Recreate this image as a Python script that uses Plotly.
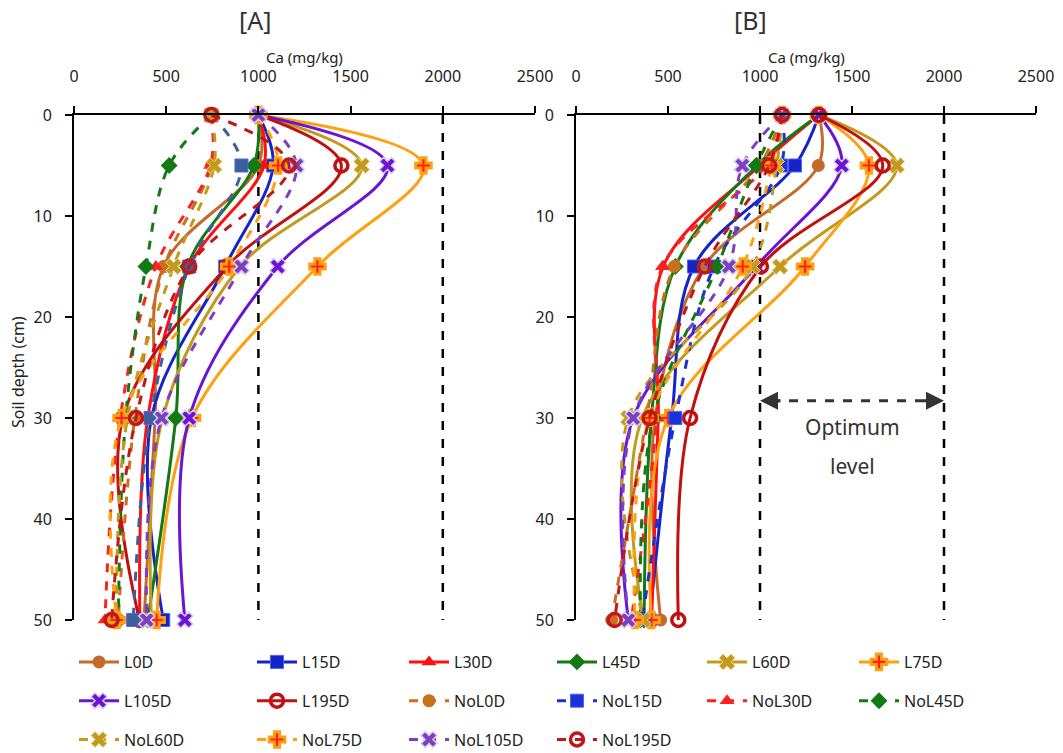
import plotly.graph_objects as go

depth = [0, 5, 15, 30, 50]
x_ticks = [0, 500, 1000, 1500, 2000, 2500]
y_ticks = [0, 10, 20, 30, 40, 50]
optimum = [1000, 2000]

names = ["L0D", "L15D", "L30D", "L45D", "L60D", "L75D", "L105D", "L195D",
         "NoL0D", "NoL15D", "NoL30D", "NoL45D", "NoL60D", "NoL75D", "NoL105D", "NoL195D"]

# Panel A values (Ca mg/kg at depths 0,5,15,30,50)
A_L0D = [1000, 1000, 485, 440, 380]
A_L15D = [1000, 1080, 820, 420, 484]
A_L30D = [1000, 1030, 625, 400, 357]
A_L45D = [1000, 975, 615, 552, 400]
A_L60D = [1000, 1560, 900, 480, 420]
A_L75D = [1000, 1895, 1320, 640, 448]
A_L105D = [1000, 1700, 1105, 625, 601]
A_L195D = [1000, 1450, 830, 265, 355]
A_NoL0D = [745, 745, 490, 330, 240]
A_NoL15D = [745, 908, 625, 415, 321]
A_NoL30D = [745, 740, 444, 250, 168]
A_NoL45D = [745, 516, 390, 280, 240]
A_NoL60D = [745, 760, 540, 290, 230]
A_NoL75D = [1000, 1107, 842, 258, 231]
A_NoL105D = [1000, 1206, 908, 475, 394]
A_NoL195D = [745, 1166, 625, 336, 204]

# Panel B values
B_L0D = [1320, 1317, 696, 430, 460]
B_L15D = [1320, 1190, 641, 520, 400]
B_L30D = [1320, 1000, 474, 447, 411]
B_L45D = [1320, 982, 540, 410, 370]
B_L60D = [1320, 1743, 1109, 360, 366]
B_L75D = [1320, 1592, 1245, 500, 410]
B_L105D = [1320, 1444, 980, 311, 284]
B_L195D = [1320, 1667, 1005, 620, 556]
B_NoL0D = [1120, 1000, 534, 384, 194]
B_NoL15D = [1120, 1114, 750, 540, 360]
B_NoL30D = [1120, 1030, 470, 440, 300]
B_NoL45D = [1120, 980, 768, 420, 350]
B_NoL60D = [1120, 1090, 960, 284, 366]
B_NoL75D = [1120, 1063, 906, 400, 320]
B_NoL105D = [1120, 904, 831, 311, 284]
B_NoL195D = [1120, 1050, 700, 400, 210]

panelA = [A_L0D, A_L15D, A_L30D, A_L45D, A_L60D, A_L75D, A_L105D, A_L195D,
          A_NoL0D, A_NoL15D, A_NoL30D, A_NoL45D, A_NoL60D, A_NoL75D, A_NoL105D, A_NoL195D]
panelB = [B_L0D, B_L15D, B_L30D, B_L45D, B_L60D, B_L75D, B_L105D, B_L195D,
          B_NoL0D, B_NoL15D, B_NoL30D, B_NoL45D, B_NoL60D, B_NoL75D, B_NoL105D, B_NoL195D]

style = {
    "L0D": dict(color="#C46A2B", symbol="circle", mline="#C46A2B", mlw=0),
    "L15D": dict(color="#1424C8", symbol="square", mline="#5060F0", mlw=1),
    "L30D": dict(color="#FF1010", symbol="triangle-up", mline="#FF1010", mlw=0),
    "L45D": dict(color="#137A13", symbol="diamond", mline="#137A13", mlw=0),
    "L60D": dict(color="#C49A1C", symbol="x", mline="#E8D89A", mlw=1),
    "L75D": dict(color="#FFA010", symbol="cross", mline="#FFA010", mlw=3),
    "L105D": dict(color="#6A14D4", symbol="x", mline="#D8CCF2", mlw=1.5),
    "L195D": dict(color="#C01010", symbol="circle-open", mline="#C01010", mlw=3.5),
}
dash_colors = {
    "NoL0D": "#C8701E", "NoL15D": "#1A33D6", "NoL30D": "#FF2020", "NoL45D": "#137A13",
    "NoL60D": "#C49A1C", "NoL75D": "#FFA010", "NoL105D": "#7B3FC0", "NoL195D": "#C01818",
}

legend_cols = {}
order_rows = [names[0:6], names[6:12], names[12:16]]
for r, row in enumerate(order_rows):
    for c, n in enumerate(row):
        legend_cols[n] = c

fig = go.Figure()


def add_series(vals, name, xaxis, yaxis, showlegend, override_color=None):
    base = name.replace("NoL", "L")
    st = style[base]
    dashed = name.startswith("NoL")
    lc = dash_colors[name] if dashed else st["color"]
    if override_color:
        lc = override_color
    if base == "L75D":
        mcol, mline = "#FF2020", lc
    elif base in ("L105D", "L15D", "L60D"):
        mcol, mline = lc, st["mline"]
    else:
        mcol, mline = lc, lc
    leg = "legend" if legend_cols[name] == 0 else "legend%d" % (legend_cols[name] + 1)
    fig.add_trace(go.Scatter(
        x=vals, y=depth, name=name, mode="lines+markers",
        line=dict(color=lc, width=3, shape="spline", dash="dash" if dashed else "solid"),
        marker=dict(symbol=st["symbol"], size=13 if st["symbol"] != "x" else 14,
                    color=mcol, line=dict(color=mline, width=st["mlw"])),
        xaxis=xaxis, yaxis=yaxis, showlegend=showlegend, legend=leg,
        legendgroup=name, cliponaxis=False,
    ))


for n, v in zip(names, panelA):
    add_series(v, n, "x", "y", False, override_color="#3D5E9A" if n == "NoL15D" else None)
for n, v in zip(names, panelB):
    add_series(v, n, "x2", "y2", True)

W, H = 1063, 753
axA = [74 / W, 535 / W]
axB = [576 / W, 1036 / W]
ydom = [(H - 620) / H, (H - 115) / H]

axis_font = dict(family="Noto Sans", size=16, color="#222")
xcommon = dict(range=[0, 2500], tickvals=x_ticks, side="top", showline=True, linecolor="black",
               linewidth=2, ticks="outside", ticklen=7, tickwidth=2, tickcolor="black",
               showgrid=False, zeroline=False, tickfont=axis_font, ticklabelstandoff=18,
               automargin=False)
ycommon = dict(range=[50, 0], tickvals=y_ticks, showline=True, linecolor="black", linewidth=2,
               ticks="outside", ticklen=7, tickwidth=2, tickcolor="black", showgrid=False,
               zeroline=False, tickfont=axis_font, ticklabelstandoff=10, automargin=False)

fig.update_layout(
    width=W, height=H, plot_bgcolor="white", paper_bgcolor="white",
    margin=dict(l=0, r=0, t=0, b=0, autoexpand=False),
    xaxis=dict(domain=axA, anchor="y", **xcommon),
    yaxis=dict(domain=ydom, anchor="x", **ycommon),
    xaxis2=dict(domain=axB, anchor="y2", **xcommon),
    yaxis2=dict(domain=ydom, anchor="x2", **ycommon),
    font=dict(family="Noto Sans", color="#222"),
)

# legends: one per column
col_text_x = [122, 300, 452, 600, 750, 902]
for c, tx in enumerate(col_text_x):
    key = "legend" if c == 0 else "legend%d" % (c + 1)
    fig.update_layout({key: dict(x=(tx - 48) / W, y=(H - 645) / H, xanchor="left", yanchor="top",
                                 orientation="v", bgcolor="rgba(0,0,0,0)",
                                 font=dict(family="Noto Sans", size=16, color="#222"),
                                 tracegroupgap=15, itemwidth=40)})

# optimum reference lines
for xr, yr in (("x", "y"), ("x2", "y2")):
    for xv in optimum:
        fig.add_shape(type="line", x0=xv, x1=xv, y0=0, y1=50, xref=xr, yref=yr,
                      line=dict(color="black", width=2.5, dash="dash"), layer="below")

# optimum arrow in panel B
fig.add_shape(type="line", x0=optimum[0] + 60, x1=optimum[1] - 60, y0=28.3, y1=28.3,
              xref="x2", yref="y2", line=dict(color="#333", width=3, dash="dash"))
fig.add_annotation(x=optimum[0], y=28.3, xref="x2", yref="y2", ax=22, ay=0, text="",
                   showarrow=True, arrowhead=2, arrowsize=1.2, arrowwidth=3, arrowcolor="#333")
fig.add_annotation(x=optimum[1], y=28.3, xref="x2", yref="y2", ax=-22, ay=0, text="",
                   showarrow=True, arrowhead=2, arrowsize=1.2, arrowwidth=3, arrowcolor="#333")
fig.add_annotation(x=1500, y=30.9, xref="x2", yref="y2", text="Optimum", showarrow=False,
                   xanchor="center", yanchor="middle",
                   font=dict(family="Noto Sans", size=21, color="#333"))
fig.add_annotation(x=1500, y=34.8, xref="x2", yref="y2", text="level", showarrow=False,
                   xanchor="center", yanchor="middle",
                   font=dict(family="Noto Sans", size=21, color="#333"))

# titles
for txt, cx in (("[A]", 255), ("[B]", 750)):
    fig.add_annotation(x=cx / W, y=(H - 20) / H, xref="paper", yref="paper", text=txt,
                       xanchor="center", yanchor="middle", showarrow=False,
                       font=dict(family="Noto Sans", size=25, color="#333"))
for cx in (304, 806):
    fig.add_annotation(x=cx / W, y=(H - 57) / H, xref="paper", yref="paper", text="Ca (mg/kg)",
                       xanchor="center", yanchor="middle", showarrow=False,
                       font=dict(family="Noto Sans", size=15, color="#222"))
fig.add_annotation(x=18 / W, y=(H - 372) / H, xref="paper", yref="paper", text="Soil depth (cm)",
                   xanchor="center", yanchor="middle", textangle=-90, showarrow=False,
                   font=dict(family="Noto Sans", size=16, color="#222"))

fig.write_html("out.html", config={"displayModeBar": False},
               post_script="document.body.style.margin='0';")
